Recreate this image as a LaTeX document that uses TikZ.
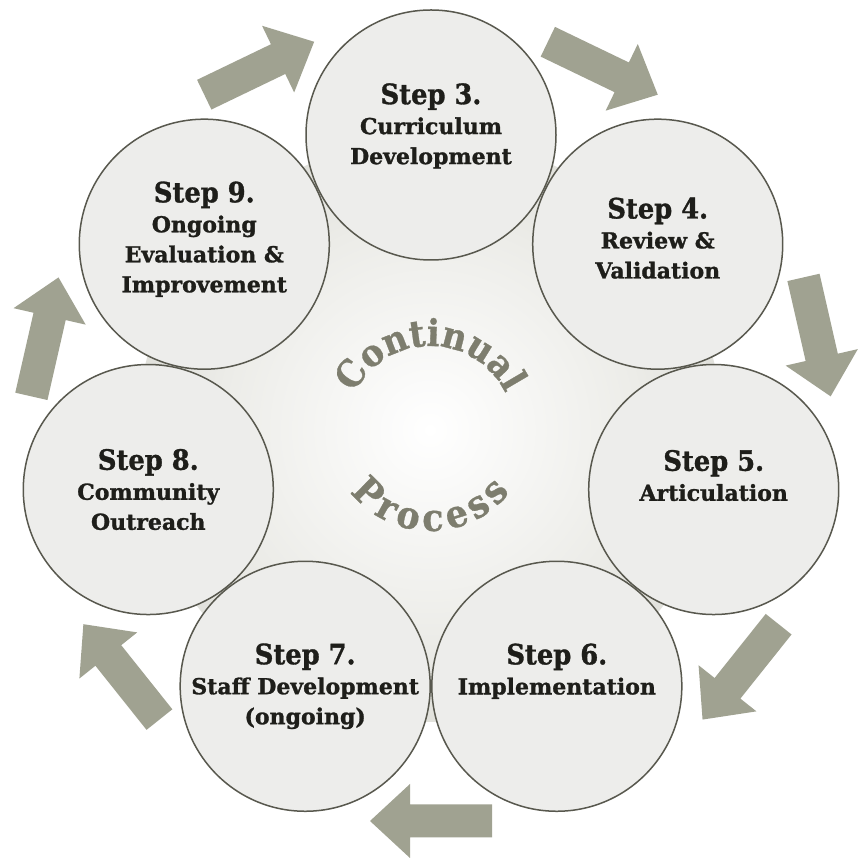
\documentclass[tikz,border=0pt]{standalone}
\usepackage{fontspec}
\usetikzlibrary{decorations.text}
\newfontfamily\slab[FakeStretch=0.92, BoldFeatures={FakeBold=1.2}]{DejaVu Serif}
\newfontfamily\slabbody[BoldFeatures={FakeBold=1.2}]{DejaVu Serif}
\newfontfamily\slabarc[FakeStretch=0.92, BoldFeatures={FakeBold=0.8}]{DejaVu Serif}
\definecolor{arrowc}{RGB}{160,162,145}
\definecolor{rimc}{RGB}{88,88,78}
\definecolor{textc}{RGB}{30,30,26}
\definecolor{arcc}{RGB}{125,125,110}
\definecolor{bgout}{RGB}{188,188,176}
\definecolor{bgmid}{RGB}{236,236,232}
\definecolor{cin}{RGB}{237,237,235}
\definecolor{cout}{RGB}{222,222,217}
\pgfdeclareradialshading{bgshade}{\pgfpoint{0bp}{0bp}}{color(0bp)=(white); color(18bp)=(bgmid); color(50bp)=(bgout)}
\pgfdeclareradialshading{discshade}{\pgfpoint{0bp}{0bp}}{color(0bp)=(cin); color(34bp)=(cin); color(50bp)=(cout)}
\newcommand{\stepline}[1]{{\slab\bfseries\fontsize{28}{30}\selectfont #1}}
\tikzset{
  stepdisc/.style={circle, minimum size=250pt, inner sep=0pt, draw=rimc, line width=1.5pt, shading=discshade},
  steptext/.style={font=\slabbody\bfseries\fontsize{22}{30}\selectfont, text=textc, align=center, inner sep=0pt},
  cyclearrow/.style={fill=arrowc, draw=none},
  arcword/.style={decorate}
}
\begin{document}
\begin{tikzpicture}[x=1pt,y=1pt]
\useasboundingbox (0,0) rectangle (865,865);
\fill[white] (0,0) rectangle (865,865);
\coordinate (ctr) at (431,440);
\shade[shading=bgshade] (430,435) circle (292);
% block arrows
\foreach \k in {0,...,6}{
  \pgfmathsetmacro\ang{90-(\k+0.5)*360/7}
  \fill[cyclearrow, shift={({431+396*cos(\ang)},{440+396*sin(\ang)})}, rotate=\ang-90]
    (-61,-16.5) -- (21,-16.5) -- (21,-37) -- (61,0) -- (21,37) -- (21,16.5) -- (-61,16.5) -- cycle;
}
% discs
\foreach \k/\nm in {6/s9,5/s8,4/s7,3/s6,2/s5,1/s4,0/s3}{
  \node[stepdisc] (\nm) at ({431+290*cos(90-\k*360/7)},{440+290*sin(90-\k*360/7)}) {};
}
% texts
\node[steptext] (t3) at ([yshift=9pt]s3.center) {\stepline{Step 3.}\\Curriculum\\Development};
\node[steptext] (t4) at ([yshift=6pt]s4.center) {\stepline{Step 4.}\\Review \&\\Validation};
\node[steptext] (t5) at ([yshift=14pt]s5.center) {\stepline{Step 5.}\\Articulation};
\node[steptext] (t6) at ([yshift=15pt]s6.center) {\stepline{Step 6.}\\Implementation};
\node[steptext] (t7) at ([yshift=0pt]s7.center) {\stepline{Step 7.}\\Staff Development\\(ongoing)};
\node[steptext] (t8) at ([yshift=0pt]s8.center) {\stepline{Step 8.}\\Community\\Outreach};
\node[steptext] (t9) at ([yshift=5pt]s9.center) {\stepline{Step 9.}\\Ongoing\\Evaluation \&\\Improvement};
% curved words
\path[arcword, decoration={text along path, text align=center,
  text={|\slabarc\bfseries\fontsize{37}{37}\selectfont\color{arcc}|Continual}}]
  (346,435) arc[start angle=180, end angle=0, radius=84];
\path[arcword, decoration={text along path, text align=center,
  text={|\slabarc\bfseries\fontsize{38}{38}\selectfont\color{arcc}|P{\kern5.5pt}r{\kern5.5pt}o{\kern5.5pt}c{\kern5.5pt}e{\kern5.5pt}s{\kern5.5pt}s}}]
  (329,435) arc[start angle=180, end angle=360, radius=101];
\end{tikzpicture}
\end{document}
